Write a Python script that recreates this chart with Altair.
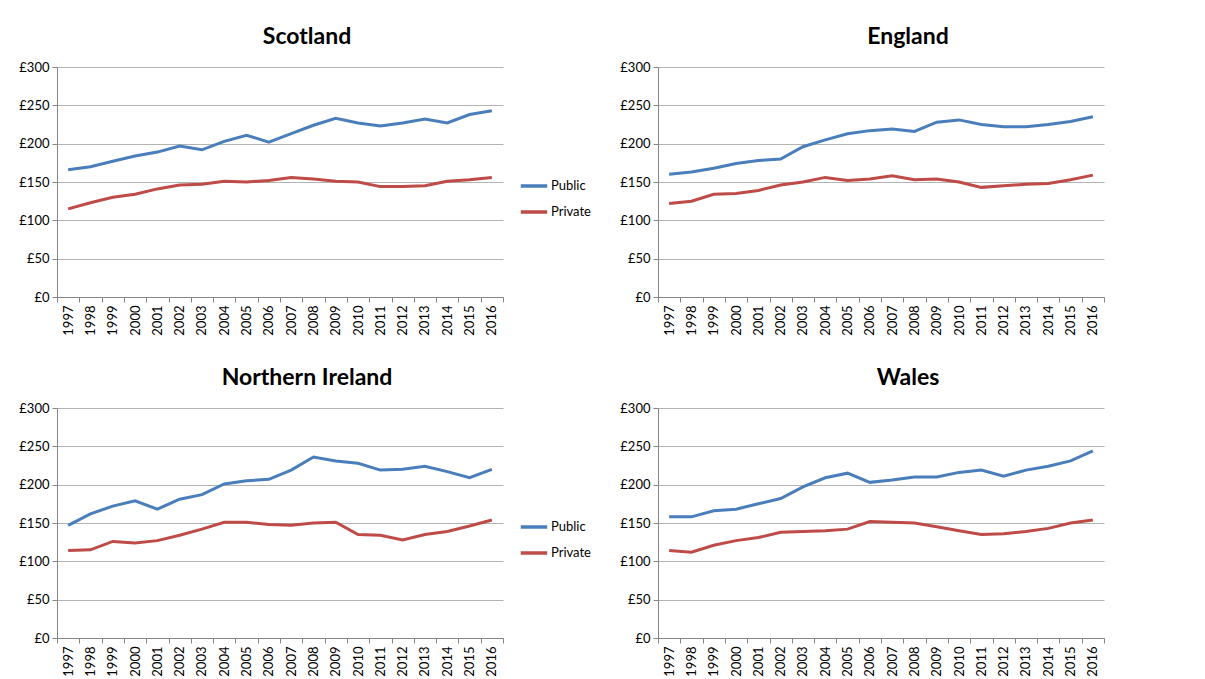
import altair as alt
import pandas as pd

years = [str(y) for y in range(1997, 2017)]

scotland_public = [166, 170, 177, 184, 189, 197, 192, 203, 211, 202, 213, 224, 233, 227, 223, 227, 232, 227, 238, 243]
scotland_private = [115, 123, 130, 134, 141, 146, 147, 151, 150, 152, 156, 154, 151, 150, 144, 144, 145, 151, 153, 156]

england_public = [160, 163, 168, 174, 178, 180, 196, 205, 213, 217, 219, 216, 228, 231, 225, 222, 222, 225, 229, 235]
england_private = [122, 125, 134, 135, 139, 146, 150, 156, 152, 154, 158, 153, 154, 150, 143, 145, 147, 148, 153, 159]

ni_public = [147, 162, 172, 179, 168, 181, 187, 201, 205, 207, 219, 236, 231, 228, 219, 220, 224, 217, 209, 220]
ni_private = [114, 115, 126, 124, 127, 134, 142, 151, 151, 148, 147, 150, 151, 135, 134, 128, 135, 139, 146, 154]

wales_public = [158, 158, 166, 168, 175, 182, 197, 209, 215, 203, 206, 210, 210, 216, 219, 211, 219, 224, 231, 244]
wales_private = [114, 112, 121, 127, 131, 138, 139, 140, 142, 152, 151, 150, 145, 140, 135, 136, 139, 143, 150, 154]

series = ["Public", "Private"]
colors = ["#4A7EBB", "#BE4B48"]
FONT = "Lato"


def panel(name, pub, priv):
    rows = []
    for y, v in zip(years, pub):
        rows.append({"year": y, "value": v, "series": "Public"})
    for y, v in zip(years, priv):
        rows.append({"year": y, "value": v, "series": "Private"})
    df = pd.DataFrame(rows)
    return alt.Chart(df).mark_line(strokeWidth=3).encode(
        x=alt.X("year:O", bandPosition=0.5,
                scale=alt.Scale(type="band", paddingInner=0, paddingOuter=0),
                axis=alt.Axis(title=None, labelAngle=-90, tickBand="extent",
                              labelFont=FONT, labelFontSize=13, labelColor="#000000",
                              domainColor="#868686", tickColor="#868686", tickSize=5,
                              labelPadding=3, grid=False, labelBaseline="middle")),
        y=alt.Y("value:Q", scale=alt.Scale(domain=[0, 300]),
                axis=alt.Axis(title=None, values=[0, 50, 100, 150, 200, 250, 300],
                              labelExpr="'£' + datum.value",
                              labelFont=FONT, labelFontSize=13, labelColor="#000000",
                              domainColor="#868686", tickColor="#868686", tickSize=5,
                              gridColor="#b3b3b3", gridWidth=1.2, labelPadding=3)),
        color=alt.Color("series:N", scale=alt.Scale(domain=series, range=colors),
                        legend=alt.Legend(title=None, orient="none", legendX=462, legendY=104,
                                          symbolType="stroke", symbolSize=700,
                                          symbolStrokeWidth=3.5, labelFont=FONT,
                                          labelFontSize=13, labelColor="#000000",
                                          rowPadding=4, labelOffset=2)),
        order=alt.Order("year:O"),
    ).properties(
        width=446, height=230,
        title=alt.TitleParams(name, font=FONT, fontSize=23, fontWeight="bold",
                              anchor="middle", frame="group", dx=27,
                              color="#000000", offset=12),
    )


top = alt.hconcat(panel("Scotland", scotland_public, scotland_private),
                  panel("England", england_public, england_private), spacing=115)
bottom = alt.hconcat(panel("Northern Ireland", ni_public, ni_private),
                     panel("Wales", wales_public, wales_private), spacing=115)

chart = alt.vconcat(top, bottom, spacing=31).resolve_legend(color="independent").configure_view(
    stroke=None
).properties(
    padding={"left": 10, "top": 18, "right": 5, "bottom": 5},
    background="white",
)

chart.save("out.html", embed_options={"renderer": "svg", "actions": False})
